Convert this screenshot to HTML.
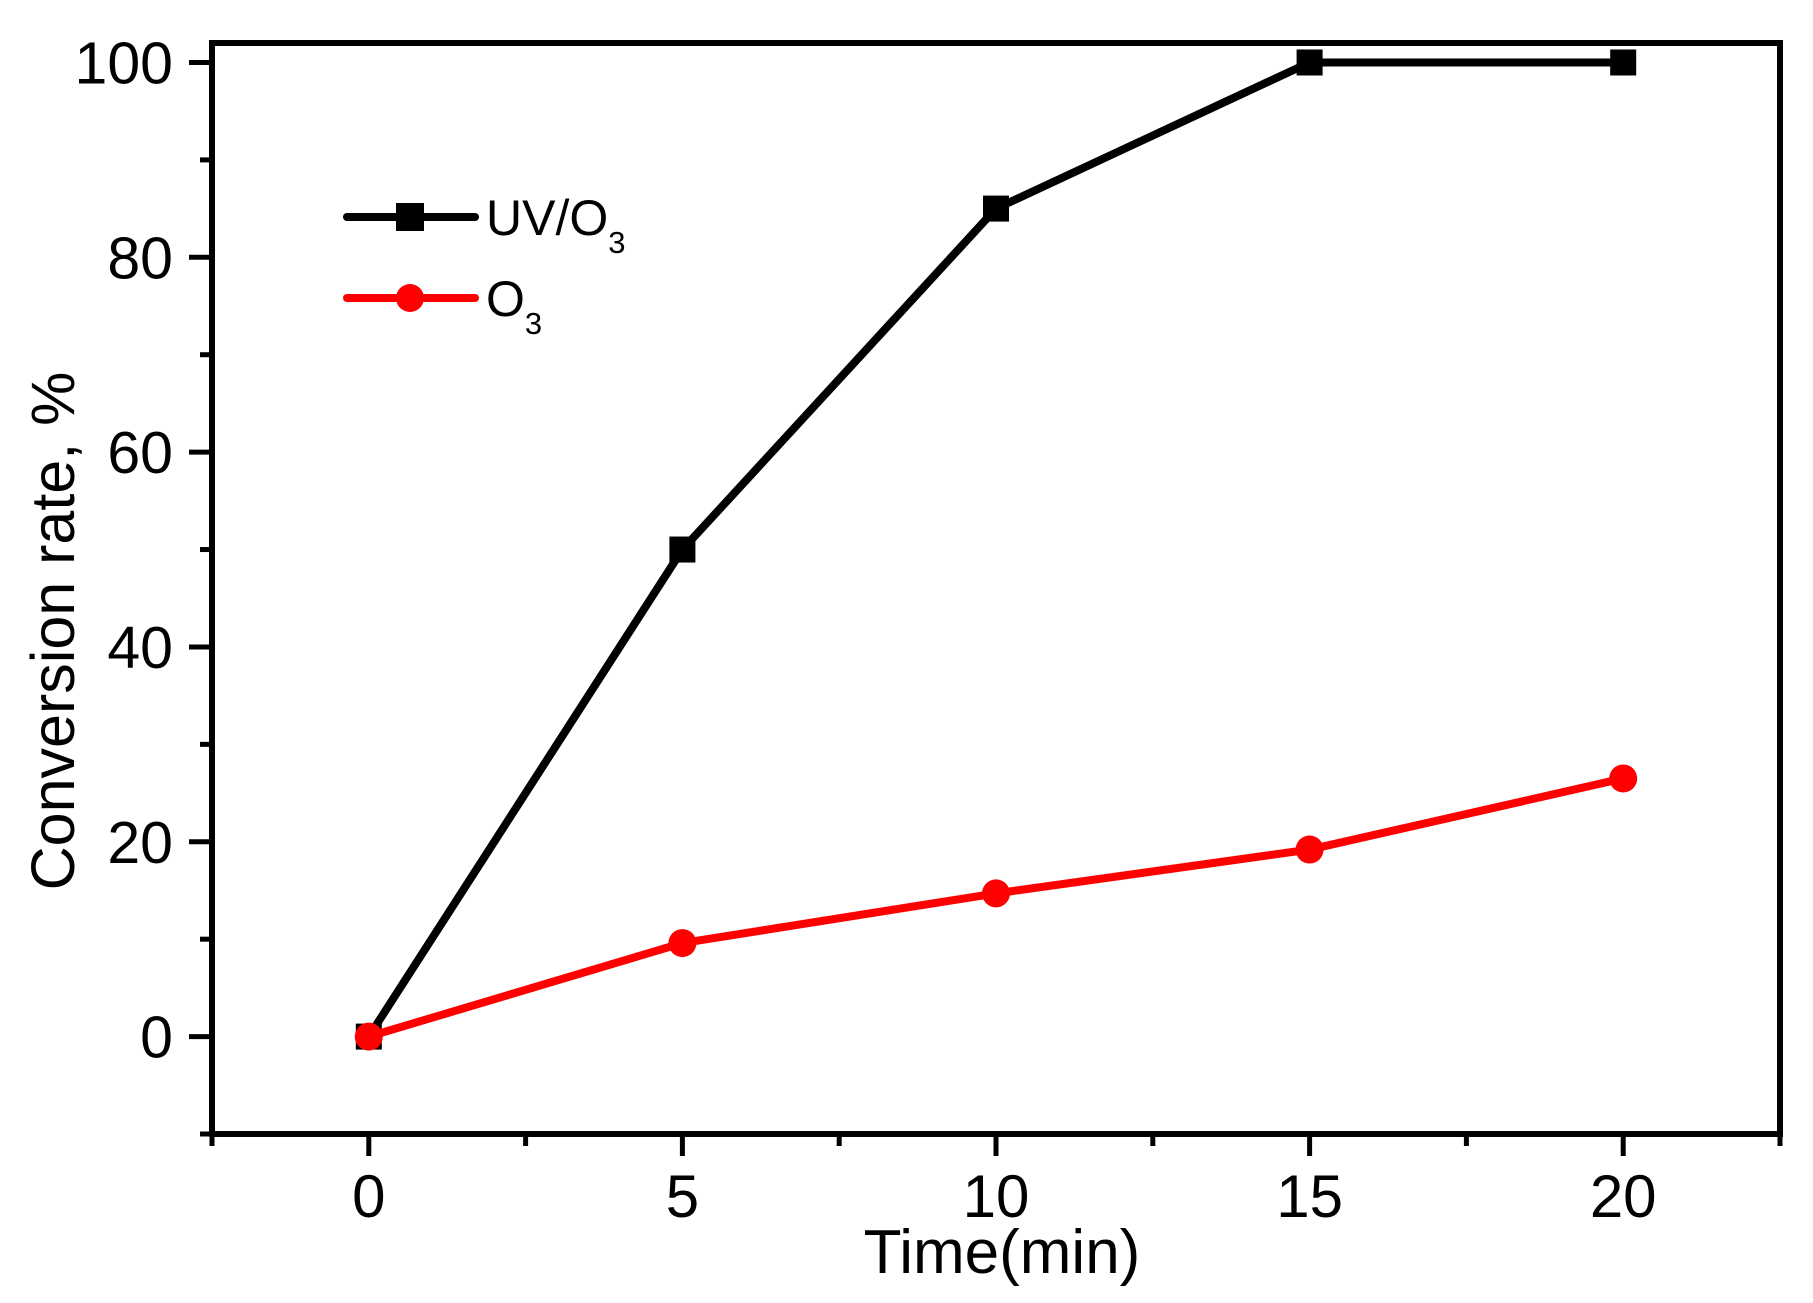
<!DOCTYPE html>
<html><head><meta charset="utf-8"><style>
html,body{margin:0;padding:0;background:#fff;}
svg{display:block;font-family:"Liberation Sans",Arial,sans-serif;}
</style></head><body>
<svg id="chart" width="1813" height="1303" viewBox="0 0 1813 1303" xmlns="http://www.w3.org/2000/svg">
<g id="axes"></g>
<g id="series"></g>
<g id="legend">
  <line x1="347" y1="217" x2="475" y2="217" stroke="#000" stroke-width="8" stroke-linecap="round"/>
  <rect x="396" y="203" width="28" height="28" fill="#000"/>
  <text x="486" y="235" font-size="50">UV/O<tspan font-size="31" dy="18">3</tspan></text>
  <line x1="347" y1="298" x2="475" y2="298" stroke="#f00" stroke-width="8" stroke-linecap="round"/>
  <circle cx="410" cy="298" r="14" fill="#f00"/>
  <text x="486" y="316" font-size="50">O<tspan font-size="31" dy="18">3</tspan></text>
</g>
<text x="1002" y="1273" font-size="62" text-anchor="middle">Time(min)</text>
<text transform="translate(74,631) rotate(-90)" font-size="61" text-anchor="middle">Conversion rate, %</text>
</svg>
<script>
const times = [0, 5, 10, 15, 20];
const uvO3 = [0, 50, 85, 100, 100];
const o3 = [0, 9.6, 14.7, 19.2, 26.5];
const xTicks = [0, 5, 10, 15, 20];
const yTicks = [0, 20, 40, 60, 80, 100];

const NS = "http://www.w3.org/2000/svg";
const L = 212, R = 1780, T = 43, B = 1134;
const xMin = -2.5, xMax = 22.5, yMin = -10, yMax = 102;
const xs = v => L + (v - xMin) / (xMax - xMin) * (R - L);
const ys = v => B - (v - yMin) / (yMax - yMin) * (B - T);
function mk(tag, attrs, parent) {
  const e = document.createElementNS(NS, tag);
  for (const k in attrs) e.setAttribute(k, attrs[k]);
  parent.appendChild(e);
  return e;
}
const axes = document.getElementById('axes');
const frame = mk('rect', {x: L, y: T, width: R - L, height: B - T, fill: 'none', stroke: '#000', 'stroke-width': 6}, axes);


for (let v = -2.5; v <= 22.51; v += 2.5) {
  const major = Math.abs(v % 5) < 1e-6;
  const t = mk('line', {x1: xs(v), x2: xs(v), y1: B, y2: B + (major ? 22 : 12), stroke: '#000', 'stroke-width': 5}, axes);
  
  
}
xTicks.forEach(v => {
  const t = mk('text', {x: xs(v), y: 1217, 'font-size': 60, 'text-anchor': 'middle'}, axes);
  t.textContent = v;
  
  
});
for (let v = -10; v <= 100.01; v += 10) {
  const major = Math.abs(v % 20) < 1e-6;
  const t = mk('line', {x1: L, x2: L - (major ? 23 : 12), y1: ys(v), y2: ys(v), stroke: '#000', 'stroke-width': 5}, axes);
  
  
}
yTicks.forEach(v => {
  const t = mk('text', {x: 173, y: ys(v) + 21, 'font-size': 59, 'text-anchor': 'end'}, axes);
  t.textContent = v;
  
  
});
const series = document.getElementById('series');
function drawSeries(vals, color, name, square) {
  const pts = times.map((t, i) => xs(t) + ',' + ys(vals[i])).join(' ');
  const pl = mk('polyline', {points: pts, fill: 'none', stroke: color, 'stroke-width': 8, 'stroke-linejoin': 'round', 'stroke-linecap': 'round'}, series);
  
  
  times.forEach((t, i) => {
    let m;
    if (square) m = mk('rect', {x: xs(t) - 13, y: ys(vals[i]) - 13, width: 26, height: 26, fill: color}, series);
    else m = mk('circle', {cx: xs(t), cy: ys(vals[i]), r: 14, fill: color}, series);
    
    
  });
}
drawSeries(uvO3, '#000', 'uv-o3', true);
drawSeries(o3, '#f00', 'o3', false);
</script>
</body></html>
